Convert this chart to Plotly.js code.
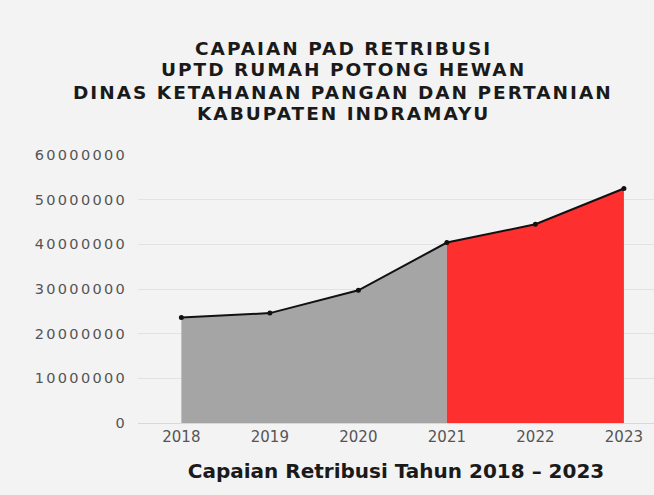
<!DOCTYPE html>
<html>
<head>
<meta charset="utf-8">
<script src="https://cdn.plot.ly/plotly-3.0.1.min.js"></script>
<style>
html,body{margin:0;padding:0;background:#f3f3f3;}
#chart{width:654px;height:495px;}
</style>
</head>
<body>
<div id="chart"></div>
<script>
var years = [2018, 2019, 2020, 2021, 2022, 2023];
var yearLabels = ["2018", "2019", "2020", "2021", "2022", "2023"];
var retribusi = [23600000, 24600000, 29700000, 40400000, 44500000, 52500000];
var yTickVals = [0, 10000000, 20000000, 30000000, 40000000, 50000000, 60000000];
var yTickText = ["0", "10000000", "20000000", "30000000", "40000000", "50000000", "60000000"];
var titleLines = ["CAPAIAN PAD RETRIBUSI", "UPTD RUMAH POTONG HEWAN", "DINAS KETAHANAN PANGAN DAN PERTANIAN", "KABUPATEN INDRAMAYU"];
var xTitle = "Capaian Retribusi Tahun 2018 – 2023";
var splitIndex = 3;

function spaced(t, px) {
  return '<span style="letter-spacing:' + px + 'px">' + t + '</span>';
}

var grayTrace = {
  x: years.slice(0, splitIndex + 1),
  y: retribusi.slice(0, splitIndex + 1),
  type: 'scatter', mode: 'lines', fill: 'tozeroy',
  fillcolor: '#a5a5a5', line: {width: 0, color: '#a5a5a5'},
  hoverinfo: 'skip', showlegend: false
};
var redTrace = {
  x: years.slice(splitIndex),
  y: retribusi.slice(splitIndex),
  type: 'scatter', mode: 'lines', fill: 'tozeroy',
  fillcolor: '#fe2f2f', line: {width: 0, color: '#fe2f2f'},
  hoverinfo: 'skip', showlegend: false
};
var lineTrace = {
  x: years, y: retribusi,
  type: 'scatter', mode: 'lines+markers',
  line: {color: '#111111', width: 2},
  marker: {color: '#111111', size: 5},
  showlegend: false
};

var lineCentersPx = [48, 70, 92, 114];
var annotations = titleLines.map(function (t, i) {
  return {
    text: spaced(t, 2), xref: 'paper', yref: 'paper',
    x: (343 - 138) / 516, xanchor: 'center',
    y: 1 + (155 - lineCentersPx[i]) / 268, yanchor: 'middle',
    showarrow: false, borderpad: 0,
    font: {family: 'DejaVu Sans', size: 18.5, color: '#1a1a1a', weight: 'bold'}
  };
});

var layout = {
  width: 654, height: 495,
  paper_bgcolor: '#f3f3f3', plot_bgcolor: '#f3f3f3',
  margin: {l: 138, r: 0, t: 155, b: 72},
  annotations: annotations,
  xaxis: {
    range: [2017.51, 2023.34],
    tickvals: years, ticktext: yearLabels,
    showgrid: false, zeroline: false, showline: false,
    ticks: '', ticklabelstandoff: 3,
    tickfont: {family: 'DejaVu Sans', size: 15, color: '#555555'},
    title: {text: xTitle,
      font: {family: 'DejaVu Sans', size: 20, color: '#1a1a1a', weight: 'bold'},
      standoff: 18}
  },
  yaxis: {
    range: [0, 60000000],
    tickvals: yTickVals, ticktext: yTickText.map(function (s) { return spaced(s, 2.3); }),
    showgrid: true, gridcolor: '#e2e2e2', gridwidth: 1,
    zeroline: true, zerolinecolor: '#d8d8d8', zerolinewidth: 1,
    showline: false, ticks: '', ticklabelstandoff: 10,
    tickfont: {family: 'DejaVu Sans', size: 14.5, color: '#555555'}
  }
};

Plotly.newPlot('chart', [grayTrace, redTrace, lineTrace], layout, {displayModeBar: false, staticPlot: true});
</script>
</body>
</html>
